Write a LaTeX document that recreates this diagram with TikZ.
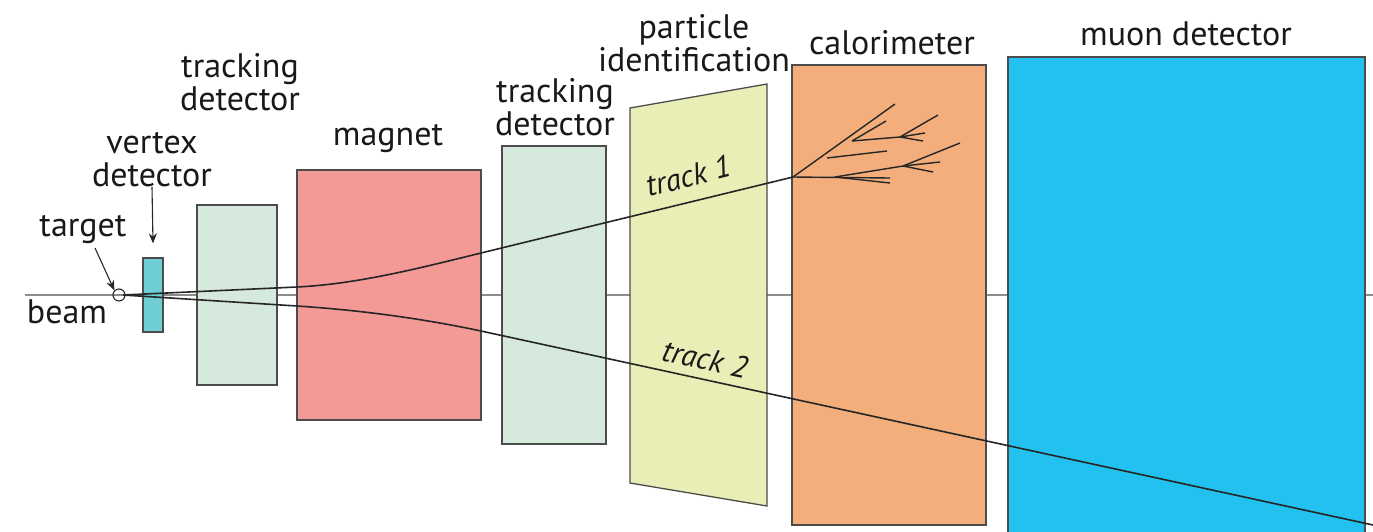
\documentclass[tikz,border=0pt]{standalone}
\usepackage{fontspec}
\setmainfont{PT Sans}
\usepackage{xcolor}
\usetikzlibrary{arrows.meta}
\definecolor{vtxcyan}{RGB}{111,205,212}
\definecolor{trkgreen}{RGB}{213,234,220}
\definecolor{magpink}{RGB}{243,154,150}
\definecolor{pidyellow}{RGB}{232,238,181}
\definecolor{calorange}{RGB}{243,174,123}
\definecolor{muonblue}{RGB}{34,193,239}

\begin{document}
\begin{tikzpicture}[x=1pt,y=-1pt,
    box/.style={draw=black!70, line width=1.3pt, inner sep=0pt},
    lbl/.style={font=\fontsize{34}{33}\selectfont, align=center, text=black!90},
    trk/.style={line width=1.6pt, black!85},
    shw/.style={line width=1.4pt, black!85},
    trklbl/.style={font=\fontsize{31}{31}\selectfont\itshape, text=black!90, inner sep=1pt}]
\useasboundingbox (0,0) rectangle (1373,531);

% beam line
\coordinate (beamin) at (25,295);
\coordinate (beamout) at (1373,295);
\draw[black!45, line width=1.2pt] (beamin) -- (beamout);

% detector layers
\node[box, fill=vtxcyan, minimum width=20pt, minimum height=74pt] (vtx) at (153,295) {};
\node[box, fill=trkgreen, minimum width=80pt, minimum height=180pt] (trka) at (237,295) {};
\node[box, fill=magpink, minimum width=184pt, minimum height=250pt] (mag) at (389,295) {};
\node[box, fill=trkgreen, minimum width=104pt, minimum height=298pt] (trkb) at (554,295) {};
\draw[box, fill=pidyellow] (630,108) -- (767,84) -- (767,506) -- (630,483) -- cycle;
\node[box, fill=calorange, minimum width=194pt, minimum height=460pt] (cal) at (889,295) {};
\node[box, fill=muonblue, minimum width=357pt, minimum height=476pt] (muon) at (1186.5,295) {};

% target
\node[circle, draw=black!85, line width=1.1pt, inner sep=0pt, minimum size=12pt] (tgt) at (119,295) {};

% labels
\node[lbl] (tgtlbl) at (83,230) {target};
\node[lbl] (beamlbl) at (67,312) {beam};
\node[lbl] (vtxlbl) at (152,160) {vertex\\detector};
\node[lbl] (trkalbl) at (240,82) {tracking\\detector};
\node[lbl] (maglbl) at (388,139) {magnet};
\node[lbl] (trkblbl) at (555,107) {tracking\\detector};
\node[lbl] (pidlbl) at (694,43) {particle\\identification};
\node[lbl] (callbl) at (892,43) {calorimeter};
\node[lbl] (muonlbl) at (1186,34) {muon detector};

\draw[-{Stealth[length=10pt,width=8pt]}, line width=1.1pt, black!85] (95,248) -- (tgt.north west);
\draw[-{Stealth[length=10pt,width=8pt]}, line width=1.1pt, black!85] ([yshift=4pt]vtxlbl.south) -- ([yshift=14pt]vtx.north);

% tracks
\coordinate (orig) at (123,295);
\coordinate (hit) at (793,177);
\coordinate (exit) at (1373,525);
\draw[trk] (orig) -- (297,287) .. controls (358,284) and (420,268) .. (481,253) -- (hit);
\draw[trk] (orig) -- (297,306) .. controls (358,310) and (420,318) .. (481,331) -- (exit);
\node[trklbl, rotate=14] (trkalab) at (688,176) {track 1};
\node[trklbl, rotate=-12.5] (trkblab) at (705,359) {track 2};

% shower in calorimeter
\draw[shw] (hit) -- (895,104);
\draw[shw] (852,141) -- (886,121);
\draw[shw] (852,141) -- (900,137) -- (938,115);
\draw[shw] (900,137) -- (925,133);
\draw[shw] (900,137) -- (923,141);
\draw[shw] (827,158) -- (887,151);
\draw[shw] (hit) -- (890,178);
\draw[shw] (835,177) -- (890,183);
\draw[shw] (835,177) -- (903,166) -- (960,143);
\draw[shw] (903,166) -- (940,162);
\draw[shw] (903,166) -- (933,172);
\end{tikzpicture}
\end{document}
